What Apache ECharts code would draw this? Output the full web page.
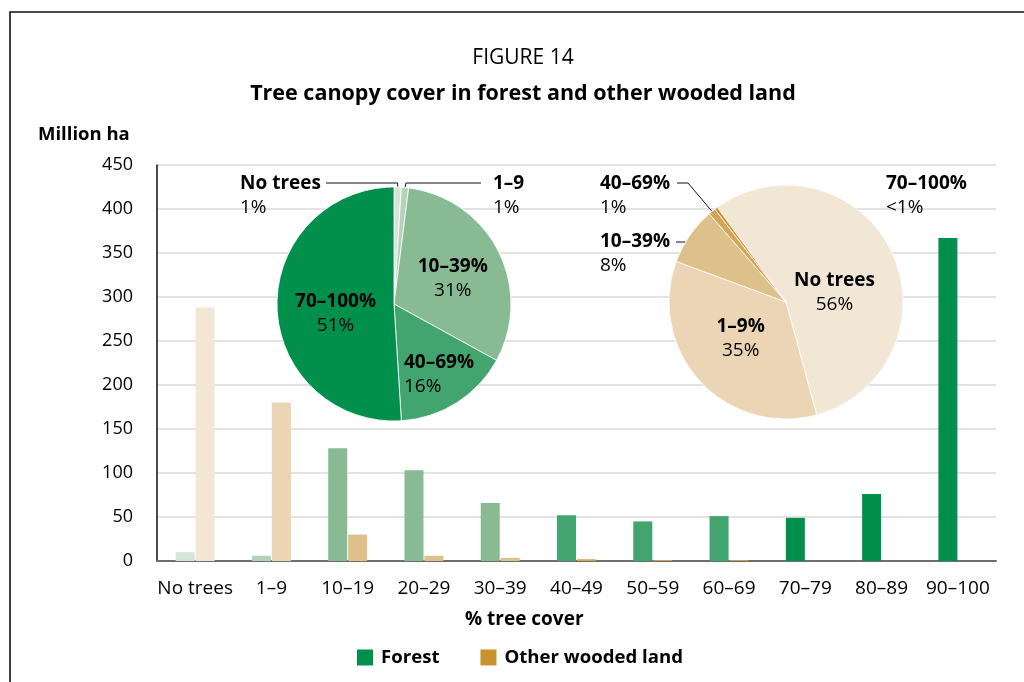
<!DOCTYPE html>
<html>
<head>
<meta charset="utf-8">
<script src="https://cdn.jsdelivr.net/npm/echarts@6/dist/echarts.min.js"></script>
<style>
  html, body { margin: 0; padding: 0; background: #fff; }
  #chart { width: 1024px; height: 682px; }
</style>
</head>
<body>
<div id="chart"></div>
<script>
// Area by canopy-cover class (million ha)
const categories = ['No trees', '1–9', '10–19', '20–29', '30–39', '40–49', '50–59', '60–69', '70–79', '80–89', '90–100'];
const forestValues = [10, 6, 128, 103, 66, 52, 45, 51, 49, 76, 367];
const otherWoodedValues = [288, 180, 30, 6, 3.5, 2, 1, 1, 0, 0, 0];
// Which pie class each bar category falls into
const classOfCategory = [0, 1, 2, 2, 2, 3, 3, 3, 4, 4, 4];

// Shares of total area per canopy class (%)
const forestPieNames = ['No trees', '1–9', '10–39%', '40–69%', '70–100%'];
const forestShares = [1, 1, 31, 16, 51];
const forestShareLabels = ['1%', '1%', '31%', '16%', '51%'];
const otherPieNames = ['No trees', '1–9%', '10–39%', '40–69%', '70–100%'];
const otherShares = [56, 35, 8, 1, 0.4];
const otherShareLabels = ['56%', '35%', '8%', '1%', '<1%'];

const yTicks = { min: 0, max: 450, interval: 50 };

// Colour ramps, light to dark, per canopy class
const forestShades = ['#d5e6d8', '#b4d3ba', '#88ba94', '#42a46e', '#00904c'];
const otherShades = ['#f2e6d5', '#ebd5b4', '#dec08a', '#d4a457', '#c8922e'];

const FONT = '"Open Sans", "Noto Sans", sans-serif';
const TXT = '#000';

// Pie geometry (pixels)
const forestPie = { cx: 394, cy: 304, r: 117, start: 0 };
const otherPie = { cx: 786, cy: 302, r: 117, start: 324 };

function sliceEdge(pie, shares, i) {
  const total = shares.reduce((a, b) => a + b, 0);
  let cum = 0;
  for (let k = 0; k < i; k++) cum += shares[k];
  const deg = pie.start + (cum + shares[i] / 2) / total * 360;
  const a = deg * Math.PI / 180;
  return [pie.cx + pie.r * Math.sin(a), pie.cy - pie.r * Math.cos(a)];
}

const richText = {
  b: { fontFamily: FONT, fontWeight: 'bold', fontSize: 19, lineHeight: 24, color: TXT },
  n: { fontFamily: FONT, fontSize: 19, lineHeight: 24, color: TXT }
};

function pieData(names, shares, shades, outside, noLine) {
  return shares.map((v, i) => {
    const item = { value: v, name: names[i], itemStyle: { color: shades[i] } };
    if (outside.includes(i)) {
      item.label = { position: 'outside' };
      item.labelLine = { show: !noLine.includes(i) };
    }
    return item;
  });
}

const chart = echarts.init(document.getElementById('chart'), null, { renderer: 'canvas' });

const option = {
  animation: false,
  backgroundColor: '#fff',
  graphic: [{
    type: 'rect', silent: true, z: -10,
    shape: { x: 10, y: 12, width: 1100, height: 800 },
    style: { fill: 'none', stroke: '#111', lineWidth: 1.6 }
  }],
  title: [
    { text: 'FIGURE 14', left: 523, textAlign: 'center', top: 48, padding: 0,
      textStyle: { fontFamily: FONT, fontWeight: 'normal', fontSize: 21, color: TXT } },
    { text: 'Tree canopy cover in forest and other wooded land', left: 523, textAlign: 'center', top: 83, padding: 0,
      textStyle: { fontFamily: FONT, fontWeight: 'bold', fontSize: 21.5, color: TXT } },
    { text: 'Million ha', left: 38, top: 125, padding: 0,
      textStyle: { fontFamily: FONT, fontWeight: 'bold', fontSize: 18.5, color: TXT } },
    { text: '% tree cover', left: 465, top: 610, padding: 0,
      textStyle: { fontFamily: FONT, fontWeight: 'bold', fontSize: 19, color: TXT } }
  ],
  legend: {
    left: 357, top: 648, padding: 0,
    icon: 'rect', itemWidth: 16, itemHeight: 16, itemGap: 41,
    textStyle: { fontFamily: FONT, fontWeight: 'bold', fontSize: 18.6, color: TXT, padding: [0, 0, 0, 3] },
    data: ['Forest', 'Other wooded land']
  },
  grid: { left: 157, right: 28, top: 165, bottom: 121, containLabel: false },
  xAxis: {
    type: 'category',
    data: categories,
    axisTick: { show: false },
    axisLine: { lineStyle: { color: '#6e6e6e', width: 2 } },
    axisLabel: { fontFamily: FONT, fontSize: 19, color: TXT, margin: 18, interval: 0 }
  },
  yAxis: {
    type: 'value',
    min: yTicks.min, max: yTicks.max, interval: yTicks.interval,
    axisLine: { show: true, lineStyle: { color: '#111', width: 1.5 } },
    axisTick: { show: false },
    axisLabel: { fontFamily: FONT, fontSize: 18, color: TXT, margin: 24 },
    splitLine: { lineStyle: { color: '#d9d9d9', width: 1.5 } }
  },
  series: [
    {
      name: 'Forest', type: 'bar', barWidth: 19, barGap: '5%',
      itemStyle: { color: forestShades[4] },
      data: forestValues.map((v, i) => ({ value: v, itemStyle: { color: forestShades[classOfCategory[i]] } }))
    },
    {
      name: 'Other wooded land', type: 'bar', barWidth: 19, barGap: '5%',
      itemStyle: { color: otherShades[4] },
      data: otherWoodedValues.map((v, i) => ({ value: v, itemStyle: { color: otherShades[classOfCategory[i]] } }))
    },
    {
      name: 'Forest share', type: 'pie', z: 5,
      center: [forestPie.cx, forestPie.cy], radius: forestPie.r,
      startAngle: 90 - forestPie.start, clockwise: true,
      avoidLabelOverlap: false, silent: true,
      itemStyle: { borderColor: '#fff', borderWidth: 0.8 },
      label: {
        position: 'inside', align: 'center',
        formatter: p => `{b|${forestPieNames[p.dataIndex]}}\n{n|${forestShareLabels[p.dataIndex]}}`,
        rich: richText
      },
      labelLine: { show: true, lineStyle: { color: '#111', width: 1 } },
      labelLayout: function (params) {
        const i = params.dataIndex;
        const P = forestPie;
        if (i === 0) {
          const p = sliceEdge(P, forestShares, 0);
          return { x: P.cx - 154, y: P.cy - 132, align: 'left', verticalAlign: 'top',
            labelLinePoints: [p, [p[0], P.cy - 121], [P.cx - 68, P.cy - 121]] };
        }
        if (i === 1) {
          const p = sliceEdge(P, forestShares, 1);
          return { x: P.cx + 99, y: P.cy - 132, align: 'left', verticalAlign: 'top',
            labelLinePoints: [p, [p[0] + 1, P.cy - 121], [P.cx + 87, P.cy - 121]] };
        }
        if (i === 2) return { dx: 4, dy: 3 };
        if (i === 3) return { x: P.cx + 10, y: P.cy + 47, align: 'left', verticalAlign: 'top' };
        if (i === 4) return { dx: 3, dy: 8 };
        return {};
      },
      data: pieData(forestPieNames, forestShares, forestShades, [0, 1], [])
    },
    {
      name: 'Other wooded land share', type: 'pie', z: 5,
      center: [otherPie.cx, otherPie.cy], radius: otherPie.r,
      startAngle: 90 - otherPie.start + 360, clockwise: true,
      avoidLabelOverlap: false, silent: true,
      itemStyle: { borderColor: '#fff', borderWidth: 0.8 },
      label: {
        position: 'inside', align: 'center',
        formatter: p => `{b|${otherPieNames[p.dataIndex]}}\n{n|${otherShareLabels[p.dataIndex]}}`,
        rich: richText
      },
      labelLine: { show: true, lineStyle: { color: '#111', width: 1 } },
      labelLayout: function (params) {
        const i = params.dataIndex;
        const P = otherPie;
        if (i === 0) return { dx: -7, dy: 17 };
        if (i === 1) return { dx: 0, dy: -5 };
        if (i === 3) {
          const p = sliceEdge(P, otherShares, 3);
          return { x: P.cx - 186, y: P.cy - 130, align: 'left', verticalAlign: 'top',
            labelLinePoints: [p, [P.cx - 98, P.cy - 119], [P.cx - 109, P.cy - 119]] };
        }
        if (i === 2) {
          const ex = P.cx - Math.sqrt(P.r * P.r - 60 * 60);
          return { x: P.cx - 186, y: P.cy - 72, align: 'left', verticalAlign: 'top',
            labelLinePoints: [[ex, P.cy - 60], [P.cx - 104, P.cy - 60], [P.cx - 110, P.cy - 60]] };
        }
        if (i === 4) {
          return { x: P.cx + 100, y: P.cy - 130, align: 'left', verticalAlign: 'top' };
        }
        return {};
      },
      data: pieData(otherPieNames, otherShares, otherShades, [2, 3, 4], [4])
    }
  ]
};

chart.setOption(option);
</script>
</body>
</html>
